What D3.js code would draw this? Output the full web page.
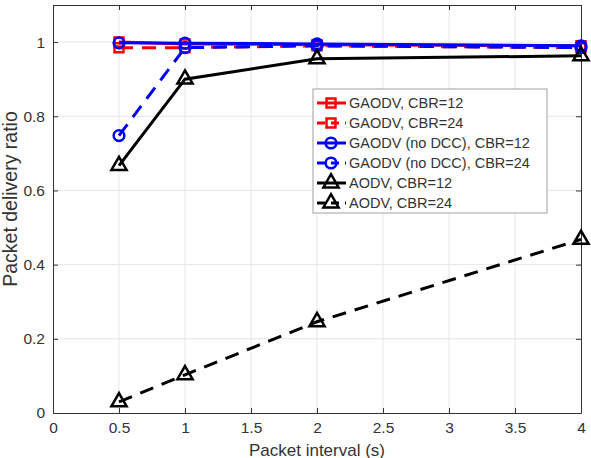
<!DOCTYPE html>
<meta charset="utf-8">
<style>
body { margin: 0; background: #fff; }
svg { font-family: "Liberation Sans", Arial, sans-serif; }
.grid line { stroke: #e6e6e6; stroke-width: 1px; }
.axis text { font-size: 15.5px; fill: #333; }
.series path.line { fill: none; stroke-width: 3px; }
</style>
<svg width="591" height="458"></svg>
<script src="https://d3js.org/d3.v7.min.js"></script>
<script>

// data
var intervals = [0.5, 1, 2, 4];
var gaodv12 = [1.0, 0.995, 0.993, 0.99];
var gaodv24 = [0.985, 0.985, 0.99, 0.985];
var noDcc12 = [0.998, 0.997, 0.995, 0.99];
var noDcc24 = [0.748, 0.985, 0.99, 0.985];
var aodv12 = [0.667, 0.90, 0.955, 0.963];
var aodv24 = [0.03, 0.103, 0.246, 0.468];
var xTicks = [0, 0.5, 1, 1.5, 2, 2.5, 3, 3.5, 4];
var yTicks = [0, 0.2, 0.4, 0.6, 0.8, 1];

var series = [
  {name: "GAODV, CBR=12", vals: gaodv12, color: "#ff0000", dash: null, mark: "square"},
  {name: "GAODV, CBR=24", vals: gaodv24, color: "#ff0000", dash: "14,9", mark: "square"},
  {name: "GAODV (no DCC), CBR=12", vals: noDcc12, color: "#0000ff", dash: null, mark: "circle"},
  {name: "GAODV (no DCC), CBR=24", vals: noDcc24, color: "#0000ff", dash: "14,9", mark: "circle"},
  {name: "AODV, CBR=12", vals: aodv12, color: "#000000", dash: null, mark: "triangle"},
  {name: "AODV, CBR=24", vals: aodv24, color: "#000000", dash: "14,9", mark: "triangle"}
];

var svg = d3.select("svg"),
    margin = {top: 5, right: 10, bottom: 45, left: 53},
    width = +svg.attr("width") - margin.left - margin.right,
    height = +svg.attr("height") - margin.top - margin.bottom,
    g = svg.append("g").attr("transform", "translate(" + margin.left + "," + margin.top + ")");

var x = d3.scaleLinear().domain([0, 4]).range([0, width]),
    y = d3.scaleLinear().domain([0, 1.1]).range([height, 0]);

// grid
var grid = g.append("g").attr("class", "grid");
grid.selectAll(".gx").data(xTicks.slice(1, -1)).enter().append("line")
    .attr("x1", function(d) { return x(d); }).attr("x2", function(d) { return x(d); })
    .attr("y1", 0).attr("y2", height);
grid.selectAll(".gy").data(yTicks.slice(1)).enter().append("line")
    .attr("y1", function(d) { return y(d); }).attr("y2", function(d) { return y(d); })
    .attr("x1", 0).attr("x2", width);

// axes (ticks inward, matlab style)
var fmt = function(d) { return d3.format("")(d); };
g.append("g").attr("class", "axis")
    .attr("transform", "translate(0," + height + ")")
    .call(d3.axisBottom(x).tickValues(xTicks).tickFormat(fmt).tickSizeInner(-5).tickSizeOuter(0).tickPadding(9));
g.append("g").attr("class", "axis")
    .call(d3.axisLeft(y).tickValues(yTicks).tickFormat(fmt).tickSizeInner(-5).tickSizeOuter(0).tickPadding(8));
g.append("g").attr("class", "axis")
    .call(d3.axisTop(x).tickValues(xTicks).tickFormat("").tickSizeInner(-5).tickSizeOuter(0));
g.append("g").attr("class", "axis")
    .attr("transform", "translate(" + width + ",0)")
    .call(d3.axisRight(y).tickValues(yTicks).tickFormat("").tickSizeInner(-5).tickSizeOuter(0));
g.selectAll(".axis path, .axis line").attr("stroke", "#333");
g.selectAll(".axis .domain").attr("stroke-width", 1);

g.append("text")
    .attr("x", width / 2).attr("y", height + 42.5)
    .attr("text-anchor", "middle").style("font-size", "17px").attr("fill", "#333")
    .text("Packet interval (s)");
g.append("text")
    .attr("transform", "rotate(-90)")
    .attr("x", -194).attr("y", -36)
    .attr("text-anchor", "middle").style("font-size", "19.5px").attr("fill", "#333")
    .text("Packet delivery ratio");

var symbolOf = {
  square: d3.symbol().type(d3.symbolSquare).size(80),
  circle: d3.symbol().type(d3.symbolCircle).size(90),
  triangle: d3.symbol().type(d3.symbolTriangle).size(100)
};

var line = d3.line()
    .x(function(d, i) { return x(intervals[i]); })
    .y(function(d) { return y(d); });

var s = g.selectAll(".series").data(series).enter().append("g").attr("class", "series");
s.append("path")
    .attr("class", "line")
    .attr("d", function(d) { return line(d.vals); })
    .attr("stroke", function(d) { return d.color; })
    .attr("stroke-dasharray", function(d) { return d.dash; });
s.each(function(d) {
  d3.select(this).selectAll(".pt").data(d.vals).enter().append("path")
    .attr("d", symbolOf[d.mark]())
    .attr("transform", function(v, i) { return "translate(" + x(intervals[i]) + "," + y(v) + ")"; })
    .attr("fill", "none").attr("stroke", d.color).attr("stroke-width", 2.5);
});

// legend
var leg = svg.append("g").attr("transform", "translate(313,89)");
leg.append("rect").attr("width", 234).attr("height", 124)
    .attr("fill", "#fff").attr("stroke", "#a0a0a0").attr("stroke-width", 1);
var item = leg.selectAll(".item").data(series).enter().append("g")
    .attr("transform", function(d, i) { return "translate(0," + (14 + i * 20) + ")"; });
item.append("line")
    .attr("x1", 4).attr("x2", 33)
    .attr("stroke", function(d) { return d.color; }).attr("stroke-width", 3)
    .attr("stroke-dasharray", function(d) { return d.dash ? "8,6" : null; });
item.append("path")
    .attr("d", function(d) { return symbolOf[d.mark](); })
    .attr("transform", "translate(18,0)")
    .attr("fill", "none").attr("stroke", function(d) { return d.color; }).attr("stroke-width", 2.5);
item.append("text")
    .attr("x", 36).attr("dy", "0.35em")
    .style("font-size", "14.5px").attr("fill", "#333")
    .text(function(d) { return d.name; });

</script>
